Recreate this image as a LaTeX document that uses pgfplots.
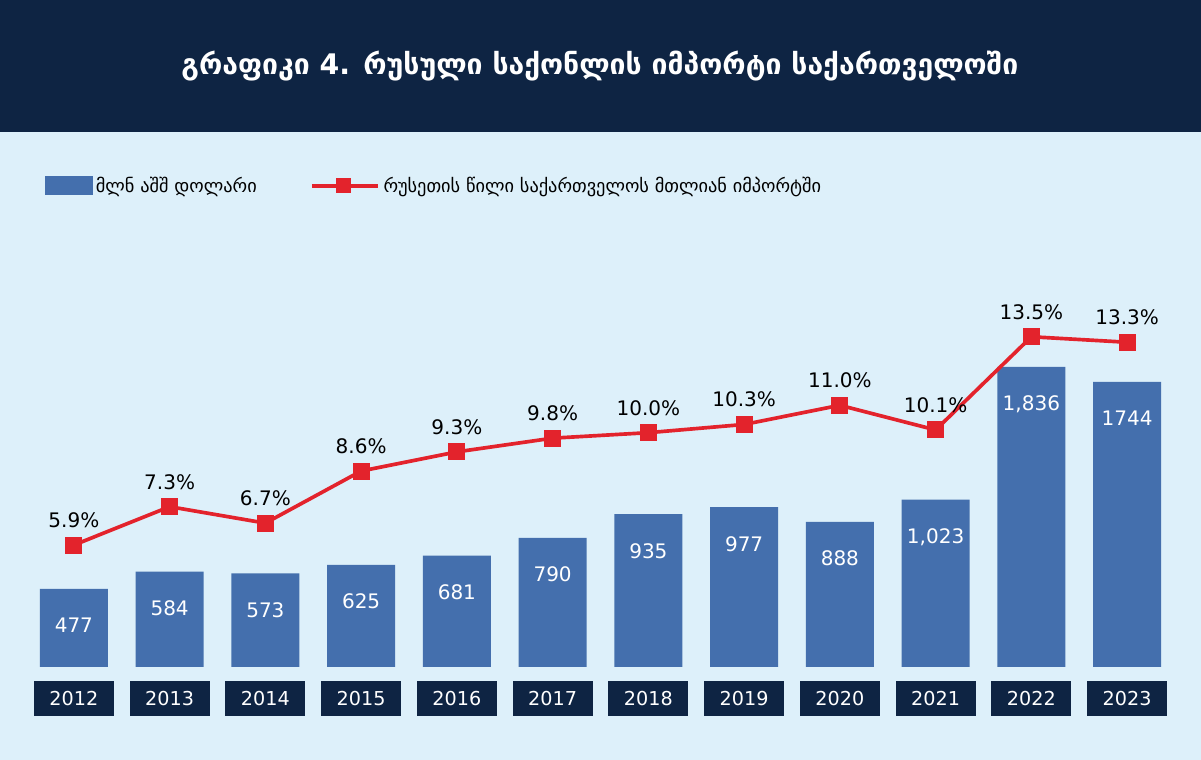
\documentclass[border=0pt]{standalone}
\usepackage{pgfplots}
\pgfplotsset{compat=1.18}
\usepackage{fontspec}
\setmainfont{DejaVu Sans}
\definecolor{navy}{HTML}{0E2443}
\definecolor{bg}{HTML}{DDF0FA}
\definecolor{barc}{HTML}{446FAD}
\definecolor{redc}{HTML}{E3232C}
\begin{document}
\begin{tikzpicture}[x=0.6pt,y=0.6pt]
\useasboundingbox (0,0) rectangle (1201,760);
\fill[bg] (0,0) rectangle (1201,760);
\fill[navy] (0,628) rectangle (1201,760);
\node[text=white,font=\bfseries\fontsize{17}{20}\selectfont] at (600,694) {გრაფიკი 4. რუსული საქონლის იმპორტი საქართველოში};
\begin{axis}[at={(15.6pt,55.8pt)},anchor=south west,scale only axis,width=689.4pt,height=316.2pt,
  xmin=-0.5,xmax=11.5,ymin=0,ymax=3223,
  axis x line=bottom, axis y line=none, x axis line style={draw=none,-},
  xtick={0,...,11},xticklabels={2012,2013,2014,2015,2016,2017,2018,2019,2020,2021,2022,2023},
  major tick length=0pt,
  xticklabel style={fill=navy,text=white,font=\fontsize{11.5}{13}\selectfont,minimum width=48pt,minimum height=21pt,inner sep=0pt,yshift=-8pt},
  ]
\addplot[ybar,bar width=40.8pt,fill=barc,draw=none,
  point meta=explicit symbolic,nodes near coords,
  every node near coord/.append style={anchor=north,yshift=-14pt,text=white,font=\fontsize{12}{14}\selectfont}]
coordinates {(0,477)[477] (1,584)[584] (2,573)[573] (3,625)[625] (4,681)[681] (5,790)[790]
 (6,935)[935] (7,977)[977] (8,888)[888] (9,1023)[{1,023}] (10,1836)[{1,836}] (11,1744)[1744]};
\end{axis}
\begin{axis}[at={(15.6pt,55.8pt)},anchor=south west,scale only axis,width=689.4pt,height=316.2pt,
  xmin=-0.5,xmax=11.5,ymin=1.45,ymax=20.68,axis lines=none,
  legend style={at={(0.012,0.913)},anchor=west,draw=none,fill=none,legend columns=2,
   font=\fontsize{11}{13}\selectfont,/tikz/every even column/.append style={column sep=30pt}},
  legend image code/.code={}]
\addlegendimage{area legend,fill=barc,draw=none,legend image code/.code={\fill[barc] (0cm,-0.2cm) rectangle (1.0cm,0.2cm);}}
\addlegendentry{მლნ აშშ დოლარი}
\addplot[redc,line width=2.2pt,mark=square*,mark size=4pt,mark options={fill=redc},
  legend image code/.code={\draw[redc,line width=2.2pt] (0cm,0cm) -- (1.4cm,0cm); \fill[redc] (0.55cm,-0.12cm) rectangle (0.79cm,0.12cm);},
  point meta=explicit symbolic,nodes near coords,
  every node near coord/.append style={anchor=south,yshift=6pt,text=black,font=\fontsize{12}{14}\selectfont}]
coordinates {(0,5.9)[5.9\%] (1,7.3)[7.3\%] (2,6.7)[6.7\%] (3,8.6)[8.6\%] (4,9.3)[9.3\%] (5,9.8)[9.8\%]
 (6,10.0)[10.0\%] (7,10.3)[10.3\%] (8,11.0)[11.0\%] (9,10.1)[10.1\%] (10,13.5)[13.5\%] (11,13.3)[13.3\%]};
\addlegendentry{რუსეთის წილი საქართველოს  მთლიან იმპორტში}
\end{axis}
\end{tikzpicture}
\end{document}
